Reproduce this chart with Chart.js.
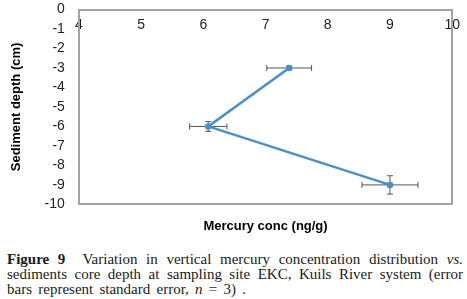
<!DOCTYPE html>
<html>
<head>
<meta charset="utf-8">
<script src="https://cdn.jsdelivr.net/npm/chart.js@4/dist/chart.umd.min.js"></script>
<style>
  body { margin: 0; background: #fff; }
  #wrap { position: relative; width: 467px; height: 234px; }
  .cap {
    position: absolute; left: 7px; width: 456px; top: 252px;
    font-family: "Liberation Serif", "DejaVu Serif", serif;
    font-size: 15px; color: #1a1a1a; line-height: 15px;
  }
  .cap div { text-align: justify; text-align-last: justify; white-space: nowrap; }
  .cap div.last { text-align-last: left; word-spacing: 2.5px; }
</style>
</head>
<body>
<div id="wrap"><canvas id="c"></canvas></div>
<div class="cap">
  <div><b>Figure 9</b>&nbsp; Variation in vertical mercury concentration distribution <i>vs.</i></div>
  <div>sediments core depth at sampling site EKC, Kuils River system (error</div>
  <div class="last">bars represent standard error, <i>n</i> = 3) .</div>
</div>
<script>
/// === DATA === ///
const depth = [-3, -6, -9];
const mercury = [7.38, 6.08, 9.0];
const errX = [0.36, 0.3, 0.45];
const errY = [0.1, 0.25, 0.47];
const xTicks = [4, 5, 6, 7, 8, 9, 10];
const yTicks = [0, -1, -2, -3, -4, -5, -6, -7, -8, -9, -10];

const frameColor = "#a3a3a3";

// error bars drawn through the scales
const errorBars = {
  id: "errorBars",
  beforeDatasetsDraw(chart) {
    const { ctx, scales } = chart;
    const x = scales.x, y = scales.y;
    ctx.save();
    ctx.strokeStyle = "#555";
    ctx.lineWidth = 1;
    mercury.forEach((m, i) => {
      const px = x.getPixelForValue(m);
      const py = y.getPixelForValue(depth[i]);
      const x0 = x.getPixelForValue(m - errX[i]);
      const x1 = x.getPixelForValue(m + errX[i]);
      const y0 = y.getPixelForValue(depth[i] - errY[i]);
      const y1 = y.getPixelForValue(depth[i] + errY[i]);
      ctx.beginPath();
      ctx.moveTo(x0, py); ctx.lineTo(x1, py);
      ctx.moveTo(x0, py - 3); ctx.lineTo(x0, py + 3);
      ctx.moveTo(x1, py - 3); ctx.lineTo(x1, py + 3);
      ctx.moveTo(px, y0); ctx.lineTo(px, y1);
      ctx.moveTo(px - 3, y0); ctx.lineTo(px + 3, y0);
      ctx.moveTo(px - 3, y1); ctx.lineTo(px + 3, y1);
      ctx.stroke();
    });
    ctx.restore();
  },
};

new Chart(document.getElementById("c"), {
  type: "line",
  data: {
    datasets: [
      {
        data: mercury.map((m, i) => ({ x: m, y: depth[i] })),
        borderColor: "#4a8fc8",
        backgroundColor: "#4a8fc8",
        borderWidth: 2.5,
        pointRadius: 2,
        tension: 0,
      },
    ],
  },
  options: {
    responsive: true,
    maintainAspectRatio: false,
    animation: false,
    layout: { padding: { top: 9.5, right: 1, left: 9, bottom: 0 } },
    plugins: { legend: { display: false }, tooltip: { enabled: false } },
    scales: {
      x: {
        type: "linear",
        position: "top",
        min: 4,
        max: 10,
        afterBuildTicks: (s) => { s.ticks = xTicks.map((v) => ({ value: v })); },
        afterFit: (s) => { s.height = 0; },
        ticks: { mirror: true, padding: 7, color: "#222", font: { family: "Liberation Sans", size: 14 } },
        grid: { drawOnChartArea: false, drawTicks: false },
        border: { color: frameColor, width: 2 },
      },
      x2: {
        type: "linear",
        position: "bottom",
        min: 4,
        max: 10,
        ticks: { display: false },
        grid: { drawOnChartArea: false, drawTicks: false },
        border: { color: frameColor, width: 2 },
        title: {
          display: true,
          text: "Mercury conc (ng/g)",
          color: "#000",
          font: { family: "Liberation Sans", size: 13, weight: "bold" },
          padding: { top: 14, bottom: 0 },
        },
      },
      y: {
        type: "linear",
        min: -10,
        max: 0,
        afterBuildTicks: (s) => { s.ticks = yTicks.map((v) => ({ value: v })); },
        ticks: { autoSkip: false, color: "#222", padding: 1, font: { family: "Liberation Sans", size: 14 } },
        grid: { drawOnChartArea: false, drawTicks: true, tickLength: 13, tickColor: "rgba(0,0,0,0)" },
        border: { color: frameColor, width: 2 },
        title: {
          display: true,
          text: "Sediment depth (cm)",
          color: "#000",
          font: { family: "Liberation Sans", size: 13, weight: "bold" },
          padding: { top: 0, bottom: 19 },
        },
      },
      y2: {
        type: "linear",
        position: "right",
        min: -10,
        max: 0,
        ticks: { display: false },
        grid: { drawOnChartArea: false, drawTicks: false },
        border: { color: frameColor, width: 2 },
      },
    },
  },
  plugins: [errorBars],
});
</script>
</body>
</html>
